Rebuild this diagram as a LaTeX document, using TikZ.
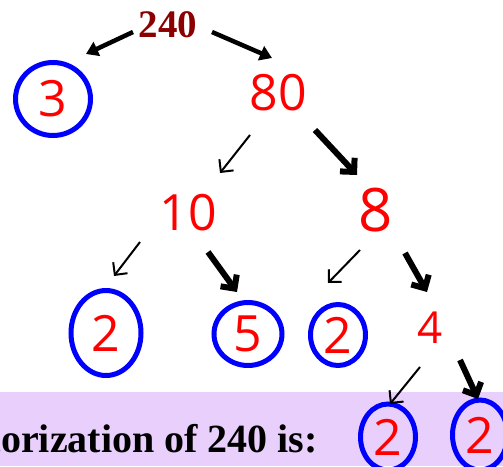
\documentclass[tikz,border=0pt]{standalone}
\usepackage{fontspec}
\setmainfont{Liberation Serif}
\newfontfamily\handfont{Open Sans}
\usepackage{xcolor}
\usetikzlibrary{calc,positioning,arrows.meta,shapes.geometric}
\definecolor{numred}{RGB}{255,0,0}
\definecolor{ringblue}{RGB}{0,0,255}
\definecolor{topred}{RGB}{139,0,0}
\definecolor{bandlilac}{RGB}{233,208,252}

\begin{document}
\begin{tikzpicture}[x=1pt, y=-1pt,
  hand/.style={text=numred, inner sep=0pt,
    font=\handfont\fontsize{50}{50}\selectfont},
  ring/.style={hand, ellipse, draw=ringblue, line width=5pt},
  fatarr/.style={-{Triangle[length=12pt,width=15pt]}, line width=4.5pt},
  thinarr/.style={-{Straight Barb[length=9pt,width=18pt]}, line width=2pt},
  boldarr/.style={-{Straight Barb[length=10pt,width=20pt]}, line width=6pt},
]
  \useasboundingbox (0,0) rectangle (503,466);
  \clip (0,0) rectangle (503,466);

  % answer band
  \fill[bandlilac] (0,392) rectangle (503,466);
  \node[anchor=base east, inner sep=0pt,
    font=\bfseries\fontsize{40}{40}\selectfont] (answer) at (318,452)
    {Prime factorization of 240 is:};

  % factor tree
  \node[inner sep=0pt, text=topred,
    font=\bfseries\fontsize{39}{39}\selectfont] (n240) at (168,25) {240};
  \node[ring, minimum width=75, minimum height=73] (n3) at (53,99) {3};
  \node[hand] (n80) at (278,93) {80};
  \node[hand] (n10) at (188,213) {10};
  \node[hand, font=\handfont\fontsize{60}{60}\selectfont] (n8) at (376,210) {8};
  \node[ring, minimum width=70, minimum height=85] (n2a) at (106,333) {2};
  \node[ring, minimum width=68, minimum height=63] (n5) at (248,334) {5};
  \node[ring, minimum width=55, minimum height=61] (n2b) at (338,335) {2};
  \node[hand, font=\handfont\fontsize{44}{44}\selectfont] (n4) at (430,328) {4};
  \node[ring, minimum width=55, minimum height=66,
    font=\handfont\fontsize{50}{50}\selectfont] (n2c) at (388,437) {2};
  \node[ring, minimum width=55, minimum height=70,
    font=\handfont\fontsize{50}{50}\selectfont] (n2d) at (480,435) {2};

  \draw[fatarr] ($(n240)+(-35,7)$) -- ($(n3)+(33,-45)$);
  \draw[fatarr] ($(n240)+(44,7)$) -- ($(n80)+(-6,-35)$);
  \draw[thinarr] ($(n80)+(-28,42)$) -- ($(n10)+(32,-40)$);
  \draw[boldarr] ($(n80)+(37,37)$) -- ($(n8)+(-19,-35)$);
  \draw[thinarr] ($(n10)+(-48,29)$) -- ($(n2a)+(8,-57)$);
  \draw[boldarr] ($(n10)+(20,39)$) -- ($(n5)+(-11,-42)$);
  \draw[thinarr] ($(n8)+(-16,40)$) -- ($(n2b)+(-10,-52)$);
  \draw[boldarr] ($(n8)+(29,43)$) -- ($(n4)+(-3,-36)$);
  \draw[thinarr] ($(n4)+(-10,39)$) -- ($(n2c)+(2,-33)$);
  \draw[boldarr] ($(n4)+(30,32)$) -- ($(n2d)+(-2,-36)$);
\end{tikzpicture}
\end{document}
